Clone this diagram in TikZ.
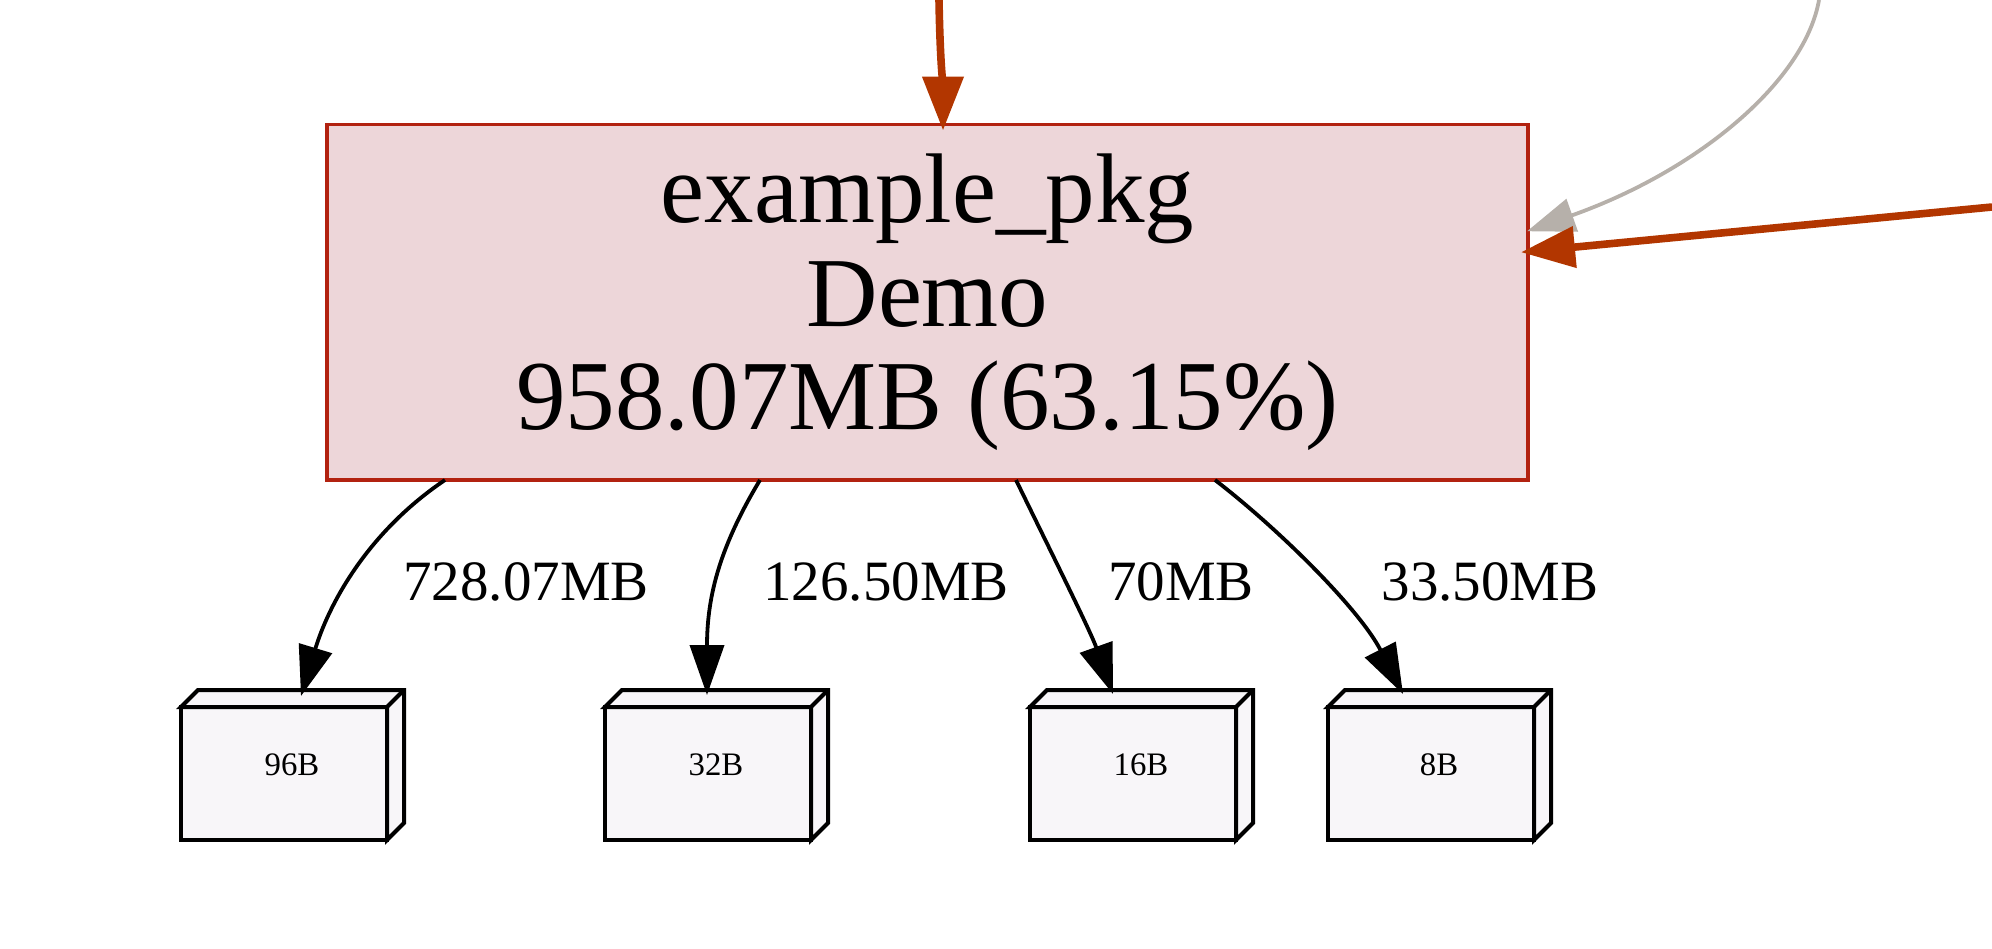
\documentclass[tikz,border=0pt]{standalone}
\usepackage{fontspec}
\setmainfont{Liberation Serif}
\usetikzlibrary{arrows.meta,calc}
\definecolor{mainfill}{RGB}{237,214,217}
\definecolor{mainborder}{RGB}{178,34,16}
\definecolor{hotedge}{RGB}{178,54,0}
\definecolor{grayedge}{RGB}{182,176,170}
\definecolor{boxfill}{RGB}{248,246,249}
\begin{document}
\begin{tikzpicture}[x=0.5pt,y=-0.5pt,
  mainbox/.style={draw=mainborder, fill=mainfill, line width=1.9pt, minimum width=600.5pt, minimum height=177.75pt, inner sep=0pt, outer sep=0pt, align=center, font=\fontsize{49.5pt}{51.8pt}\selectfont},
  membox/.style={draw=black, fill=boxfill, line width=2pt, minimum width=103pt, minimum height=66.5pt, inner sep=0pt, outer sep=0pt},
  boxtxt/.style={font=\fontsize{16.4pt}{19pt}\selectfont, xshift=4pt, yshift=4.5pt},
  edgelbl/.style={font=\fontsize{28.5pt}{32pt}\selectfont, anchor=base, inner sep=0pt},
  blackedge/.style={draw=black, line width=1.9pt, -{Triangle[length=25pt,width=17pt]}},
  hotarrow/.style={draw=hotedge, line width=3.8pt, -{Triangle[length=27pt,width=20pt]}},
  grayarrow/.style={draw=grayedge, line width=1.9pt, -{Triangle[length=24pt,width=17pt]}},
  face/.style={fill=boxfill, draw=black, line width=2pt, line join=miter}
]
\useasboundingbox (0,0) rectangle (1992,948);

\node[mainbox] (main) at (927.5,302.25) {example\_pkg\\Demo\\958.07MB (63.15\%)};

\node[membox, label={[boxtxt]center:96B}] (b1) at (284,773.5) {};
\node[membox, label={[boxtxt]center:32B}] (b2) at (708,773.5) {};
\node[membox, label={[boxtxt]center:16B}] (b3) at (1133,773.5) {};
\node[membox, label={[boxtxt]center:8B}] (b4) at (1431,773.5) {};

\foreach \n in {b1,b2,b3,b4}{
  \filldraw[face] (\n.north west) -- ($(\n.north west)+(17,-17)$) -- ($(\n.north east)+(17,-17)$) -- ($(\n.south east)+(17,-17)$) -- (\n.south east) -- (\n.north east) -- cycle;
  \draw[face] (\n.north east) -- ($(\n.north east)+(17,-17)$);
}

\node[edgelbl] (l1) at (526,600) {728.07MB};
\node[edgelbl] (l2) at (886,600) {126.50MB};
\node[edgelbl] (l3) at (1181,600) {70MB};
\node[edgelbl] (l4) at (1490,600) {33.50MB};

\draw[blackedge] ($(main.south)+(-482.5,0)$) .. controls (365,534) and (328,607) .. ($(b1.north)+(17,-11)$);
\draw[blackedge] ($(main.south)+(-167.5,0)$) .. controls (721,545) and (707,594) .. ($(b2.north)+(-1,-12)$);
\draw[blackedge] ($(main.south)+(88.5,0)$) .. controls (1050,550) and (1090,630) .. ($(b3.north)+(-20,-13)$);
\draw[blackedge] ($(main.south)+(287.5,0)$) .. controls (1280,530) and (1360,610) .. ($(b4.north)+(-28,-13)$);

\coordinate (rtop) at (939,0);
\coordinate (rright) at (1992,207);
\coordinate (gtop) at (1819,0);
\draw[hotarrow] (rtop) .. controls (940,60) and (943,90) .. ($(main.north)+(15.5,6)$);
\draw[grayarrow] (gtop) .. controls (1805,80) and (1700,170) .. ($(main.east)+(-1,-71)$);
\draw[hotarrow] (rright) -- ($(main.east)+(-7,-50)$);
\end{tikzpicture}
\end{document}
